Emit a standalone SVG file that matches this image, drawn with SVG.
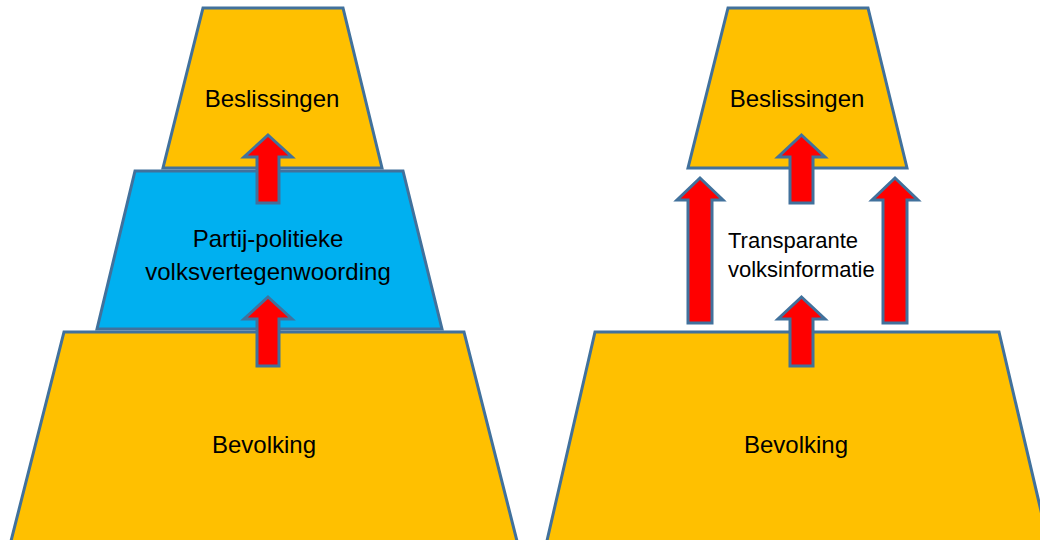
<svg xmlns="http://www.w3.org/2000/svg" width="1040" height="540" viewBox="0 0 1040 540">
<style>
.org{fill:#FFC000;stroke:#41719C;stroke-width:3;stroke-linejoin:miter}
.blu{fill:#00B0F0;stroke:#41719C;stroke-width:3}
.arr{fill:#FF0000;stroke:#41719C;stroke-width:3;stroke-linejoin:miter}
.t{font-family:"Liberation Sans",Arial,sans-serif;font-size:24px;fill:#000}
.s{font-family:"Liberation Sans",Arial,sans-serif;font-size:22px;fill:#000}
</style>
<rect width="1040" height="540" fill="#FFFFFF"/>
<g id="left-bevolking">
<polygon class="org" points="64,332 464,332 518,545 10,545"/>
<text class="t" x="264" y="453" text-anchor="middle">Bevolking</text>
</g>
<g id="left-beslissingen">
<polygon class="org" points="203,8 343,8 382,168 163,168"/>
<text class="t" x="272" y="107" text-anchor="middle">Beslissingen</text>
</g>
<g id="left-volksvertegenwoording">
<polygon class="blu" points="135,171 403,171 442,329 97,329"/>
<text class="t" x="268" y="247" text-anchor="middle">Partij-politieke</text>
<text class="t" x="268" y="280" text-anchor="middle">volksvertegenwoording</text>
</g>
<g id="right-bevolking">
<polygon class="org" points="595,332 999,332 1049,545 546,545"/>
<text class="t" x="796" y="453" text-anchor="middle">Bevolking</text>
</g>
<g id="right-beslissingen">
<polygon class="org" points="728,8 868,8 907,168 688,168"/>
<text class="t" x="797" y="107" text-anchor="middle">Beslissingen</text>
</g>
<g id="right-volksinformatie">
<text class="s" x="728" y="248">Transparante</text>
<text class="s" x="728" y="277">volksinformatie</text>
</g>
<g id="connectors">
<polygon class="arr" points="268,135 292,157 279,157 279,203 257,203 257,157 244,157"/>
<polygon class="arr" points="268,297 292,319 279,319 279,366 257,366 257,319 244,319"/>
<polygon class="arr" points="801.5,135 825,157 813,157 813,203 790,203 790,157 778,157"/>
<polygon class="arr" points="801.5,297 825,319 813,319 813,366 790,366 790,319 778,319"/>
<polygon class="arr" points="700,178 723,200 712,200 712,323 688,323 688,200 677,200"/>
<polygon class="arr" points="895,178 918,200 907,200 907,323 883,323 883,200 872,200"/>
</g>
</svg>
